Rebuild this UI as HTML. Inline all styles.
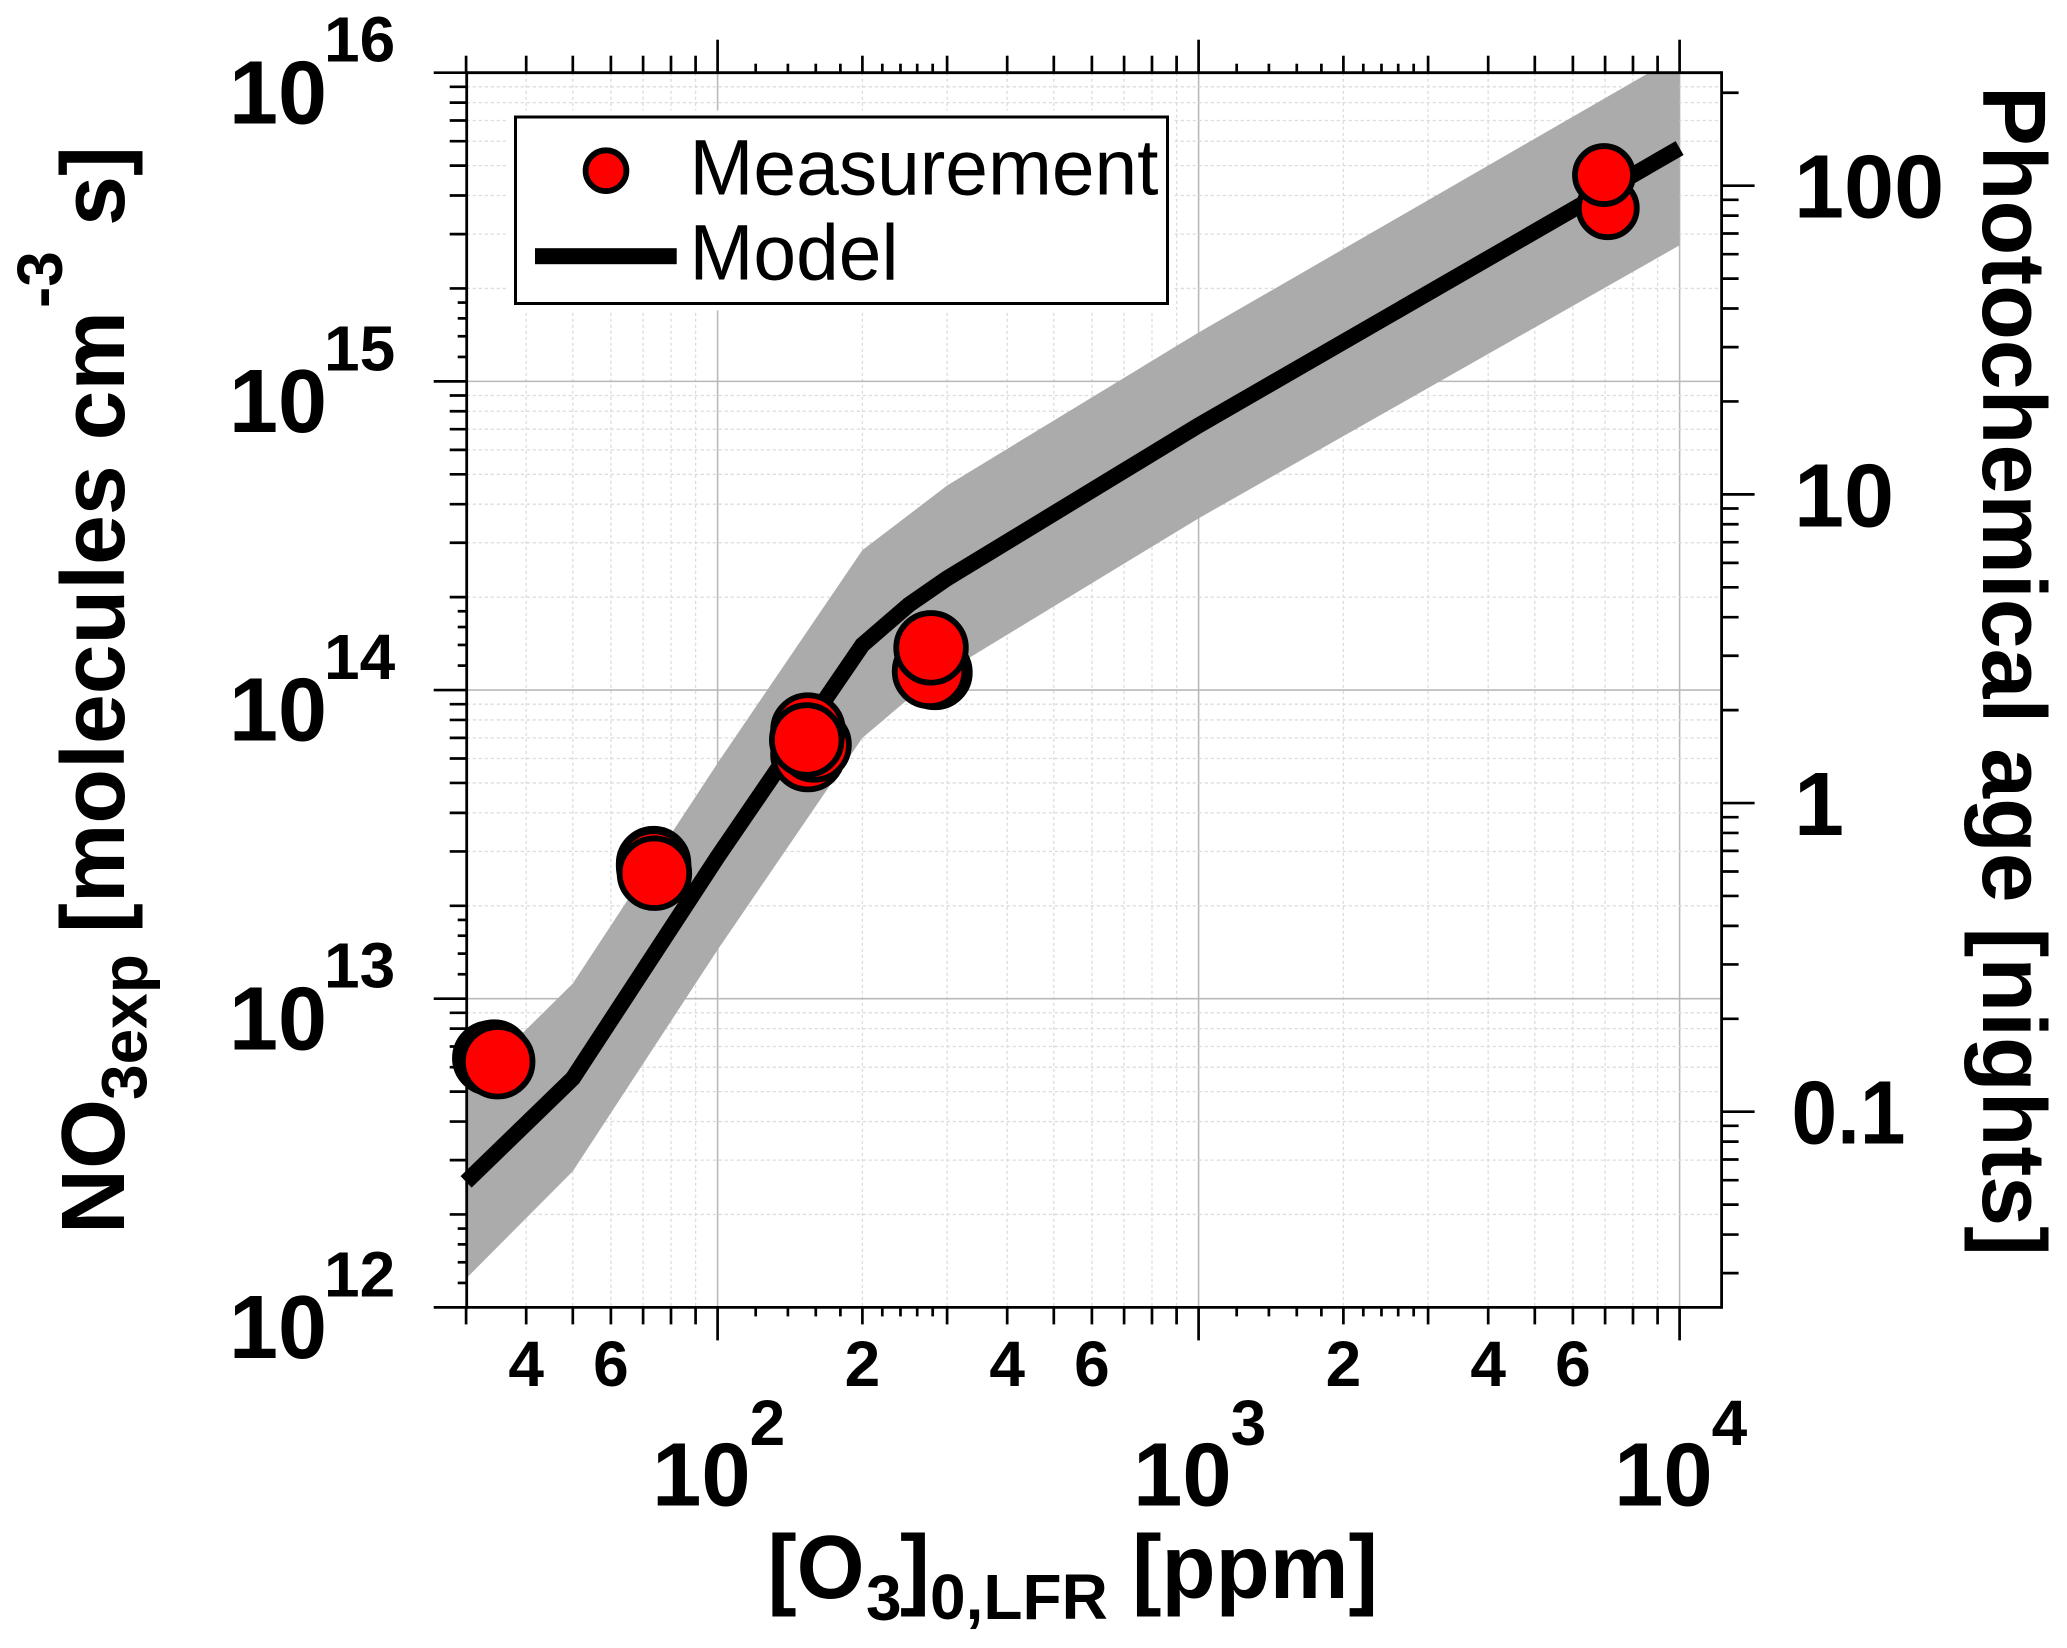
<!DOCTYPE html>
<html lang="en">
<head>
<meta charset="utf-8">
<title>NO3exp vs O3</title>
<style>
html,body{margin:0;padding:0;background:#fff}
svg{display:block}
text{font-family:"Liberation Sans",Arial,sans-serif;fill:#000}
.b{font-weight:700}
</style>
</head>
<body>
<svg id="chart" xmlns="http://www.w3.org/2000/svg" width="2067" height="1648" viewBox="0 0 2067 1648">
  <defs><clipPath id="plot-clip"><rect x="466.7" y="72.7" width="1255" height="1234.6"/></clipPath></defs>
  <rect x="0" y="0" width="2067" height="1648" fill="#fff"/>
  <g id="grid"></g>
  <g id="band" clip-path="url(#plot-clip)"></g>
  <g id="axes"></g>
  <g id="series"></g>

  <g>
    <rect x="508.5" y="110.5" width="666" height="200" fill="#fff"/>
    <rect x="515.5" y="117" width="652" height="186.5" fill="#fff" stroke="#000" stroke-width="3"/>
    <circle cx="606" cy="170.7" r="20.4" fill="#f00" stroke="#000" stroke-width="5.8"/>
    <rect x="535" y="248.2" width="141.7" height="16" fill="#000"/>
    <text x="689.5" y="194.3" font-size="79" textLength="469" lengthAdjust="spacingAndGlyphs">Measurement</text>
    <text x="689.5" y="279.3" font-size="79" textLength="209" lengthAdjust="spacingAndGlyphs">Model</text>
  </g>

  <g transform="translate(124,1228) rotate(-90)">
    <text class="b" x="-6" y="0" font-size="90">NO</text>
    <text class="b" x="128" y="22.7" font-size="64">3exp</text>
    <text class="b" x="295" y="0" font-size="90" textLength="622" lengthAdjust="spacingAndGlyphs">[molecules cm</text>
    <text class="b" x="920" y="-62" font-size="64">-3</text>
    <text class="b" x="1002" y="0" font-size="90">s]</text>
  </g>

  <text class="b" transform="translate(1983,86) rotate(90)" x="0" y="0" font-size="90" textLength="1170" lengthAdjust="spacingAndGlyphs">Photochemical age [nights]</text>

  <g>
    <text class="b" x="767.5" y="1598" font-size="90" textLength="97" lengthAdjust="spacingAndGlyphs">[O</text>
    <text class="b" x="866" y="1620" font-size="64">3</text>
    <text class="b" x="900" y="1598" font-size="90">]</text>
    <text class="b" x="930" y="1619" font-size="64">0,LFR</text>
    <text class="b" x="1132" y="1598" font-size="90" textLength="246" lengthAdjust="spacingAndGlyphs">[ppm]</text>
  </g>
</svg>
<script>
const ozonePpm = [30, 50, 100, 200, 250, 300, 1000, 10000];
const modelValues = [2.55e12, 5.52e12, 2.88e13, 1.4e14, 1.89e14, 2.3e14, 7.2e14, 5.7e15];
const bandUpperValues = [5.1e12, 1.12e13, 5.8e13, 2.84e14, 3.7e14, 4.6e14, 1.44e15, 1.14e16];
const bandLowerValues = [1.24e12, 2.76e12, 1.44e13, 7e13, 9.4e13, 1.15e14, 3.6e14, 2.76e15];

const measurementX = [33.6, 34.3, 34.9, 73.6, 73.6, 73.9, 154.1, 158.7, 154.1, 153.2, 283.1, 275.8, 277.8, 7090, 6963];
const measurementY = [6.42e12, 6.47e12, 6.25e12, 2.74e13, 2.69e13, 2.55e13, 6.18e13, 6.64e13, 7.42e13, 6.89e13, 1.14e14, 1.15e14, 1.37e14, 3.64e15, 4.66e15];

const yDecades = [12, 13, 14, 15, 16];
const xDecades = [2, 3, 4];
const xMinorLabels = ['4', '6', '2', '4', '6', '2', '4', '6'];
const xMinorLabelValues = [40, 60, 200, 400, 600, 2000, 4000, 6000];
const ageMajorValues = [100, 10, 1, 0.1];
const ageMajorLabels = ['100', '10', '1', '0.1'];
const longMultipliers = [2, 3, 4, 5, 6, 7, 8, 9];
const yShortMultipliers = [1.2, 1.4, 1.6, 1.8];
const xShortMultipliers = [1.2, 1.4, 1.6, 1.8, 2.2, 2.4, 2.6, 2.8];

const NS = 'http://www.w3.org/2000/svg';
const L = 466.7, R = 1721.6, T = 72.7, B = 1307.4;
const X100 = 717.6, XDEC = 481, YDEC = 308.67, AGE100 = 185.7;
const xAt = v => X100 + (Math.log10(v) - 2) * XDEC;
const yAt = v => T + (16 - Math.log10(v)) * YDEC;
const ageAt = v => AGE100 + (2 - Math.log10(v)) * YDEC;

const gridG = document.getElementById('grid');
const axesG = document.getElementById('axes');
const bandG = document.getElementById('band');
const seriesG = document.getElementById('series');

function line(parent, name, x1, y1, x2, y2, color, w, dash) {
  const el = document.createElementNS(NS, 'line');
  el.setAttribute('x1', x1);
  el.setAttribute('y1', y1);
  el.setAttribute('x2', x2);
  el.setAttribute('y2', y2);
  el.setAttribute('stroke', color);
  el.setAttribute('stroke-width', w);
  if (dash) el.setAttribute('stroke-dasharray', dash);
  
  
  parent.appendChild(el);
}
function label(name, str, x, y, size, anchor, fitWidth) {
  const el = document.createElementNS(NS, 'text');
  el.setAttribute('x', x);
  el.setAttribute('y', y);
  el.setAttribute('font-size', size);
  el.setAttribute('font-weight', '700');
  if (anchor) el.setAttribute('text-anchor', anchor);
  if (fitWidth) {
    el.setAttribute('textLength', fitWidth);
    el.setAttribute('lengthAdjust', 'spacingAndGlyphs');
  }
  el.textContent = str;
  
  
  axesG.appendChild(el);
}

const MAJ = '#b9b9b9', MIN = '#dcdcdc', DASH = '3.2 2.8';
const LONG = 17, SHORT = 9, MAJOR = 33, TW = 2.7;

/* ---- x ticks + grid ---- */
function xTick(v, len) {
  const p = xAt(v);
  line(axesG, 'x-tick-bottom', p, B, p, B + len, '#000', TW);
  line(axesG, 'x-tick-top', p, T, p, T - len, '#000', TW);
}
[1, 2, 3].forEach(d => {
  longMultipliers.forEach(m => {
    const v = m * Math.pow(10, d);
    if (v < 30 || v > 10000) return;
    xTick(v, LONG);
    if (v > 30) line(gridG, 'x-minor-gridline', xAt(v), T, xAt(v), B, MIN, 1.3, DASH);
  });
  if (d >= 2) xShortMultipliers.forEach(m => xTick(m * Math.pow(10, d), SHORT));
});
xDecades.forEach(d => {
  const v = Math.pow(10, d), p = xAt(v);
  xTick(v, MAJOR);
  line(gridG, 'x-major-gridline', p, T, p, B, MAJ, 1.6);
  label('x-major-label-base', '10', p - 65.5, 1505.5, 90, null, 98.5);
  label('x-major-label-exponent', String(d), p + 32, 1445, 64);
});
xMinorLabelValues.forEach((v, i) => {
  label('x-minor-label', xMinorLabels[i], xAt(v), 1386, 64, 'middle');
});

/* ---- y ticks + grid ---- */
yDecades.forEach(d => {
  const v = Math.pow(10, d), p = yAt(v);
  line(axesG, 'y-major-tick', L, p, L - MAJOR, p, '#000', TW);
  if (d > 12 && d < 16) line(gridG, 'y-major-gridline', L, p, R, p, MAJ, 1.6);
  label('y-major-label-base', '10', 229, p + 50.6, 90, null, 98);
  label('y-major-label-exponent', String(d), 324, p - 11, 64);
  if (d === 16) return;
  longMultipliers.forEach(m => {
    const q = yAt(m * v);
    line(axesG, 'y-minor-tick', L, q, L - LONG, q, '#000', TW);
    line(gridG, 'y-minor-gridline', L, q, R, q, MIN, 1.3, DASH);
  });
  yShortMultipliers.forEach(m => {
    const q = yAt(m * v);
    line(axesG, 'y-short-tick', L, q, L - SHORT, q, '#000', TW);
  });
});

/* ---- right axis ---- */
[0.01, 0.1, 1, 10, 100].forEach(base => {
  longMultipliers.forEach(m => {
    const q = ageAt(m * base);
    if (q < T || q > B) return;
    line(axesG, 'right-minor-tick', R, q, R + LONG, q, '#000', TW);
  });
});
ageMajorValues.forEach((v, i) => {
  const q = ageAt(v);
  line(axesG, 'right-major-tick', R, q, R + MAJOR, q, '#000', TW);
  const text = ageMajorLabels[i];
  label('right-major-label', text, text === '0.1' ? 1791.5 : 1794, q + 32, 90, null, text === '0.1' ? 114 : null);
});

/* ---- frame ---- */
line(axesG, 'left-axis-line', L, T - 1.4, L, B + 1.4, '#000', 2.8);
line(axesG, 'right-axis-line', R, T - 1.4, R, B + 1.4, '#000', 2.8);
line(axesG, 'top-axis-line', L, T, R, T, '#000', 2.8);
line(axesG, 'bottom-axis-line', L, B, R, B, '#000', 2.8);

/* ---- band ---- */
const upperPts = ozonePpm.map((v, i) => xAt(v) + ',' + yAt(bandUpperValues[i]));
const lowerPts = ozonePpm.map((v, i) => xAt(v) + ',' + yAt(bandLowerValues[i])).reverse();
const bandEl = document.createElementNS(NS, 'polygon');
bandEl.setAttribute('points', upperPts.concat(lowerPts).join(' '));
bandEl.setAttribute('fill', '#ababab');


bandG.appendChild(bandEl);

/* ---- model line ---- */
const modelEl = document.createElementNS(NS, 'polyline');
modelEl.setAttribute('points', ozonePpm.map((v, i) => xAt(v) + ',' + yAt(modelValues[i])).join(' '));
modelEl.setAttribute('fill', 'none');
modelEl.setAttribute('stroke', '#000');
modelEl.setAttribute('stroke-width', '16');
modelEl.setAttribute('stroke-linejoin', 'miter');


seriesG.appendChild(modelEl);

/* ---- measurements ---- */
measurementX.forEach((v, i) => {
  const c = document.createElementNS(NS, 'circle');
  c.setAttribute('cx', xAt(v));
  c.setAttribute('cy', yAt(measurementY[i]));
  c.setAttribute('r', v > 5000 ? 29 : 34.8);
  c.setAttribute('fill', '#f00');
  c.setAttribute('stroke', '#000');
  c.setAttribute('stroke-width', '5.8');
  
  
  seriesG.appendChild(c);
});
</script>
</body>
</html>
